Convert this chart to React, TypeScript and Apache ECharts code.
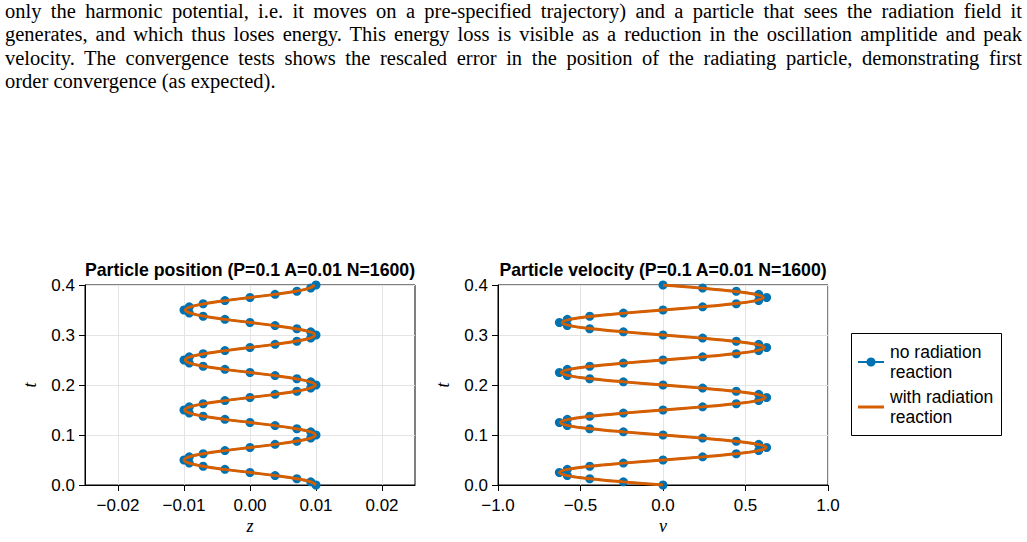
import React, { useEffect, useRef } from "react";
import * as echarts from "echarts";

// Sample times (shared by both particles)
const tValues = [
  0, 0.00625, 0.0125, 0.01875, 0.025, 0.03125, 0.0375, 0.04375,
  0.05, 0.05625, 0.0625, 0.06875, 0.075, 0.08125, 0.0875, 0.09375,
  0.1, 0.10625, 0.1125, 0.11875, 0.125, 0.13125, 0.1375, 0.14375,
  0.15, 0.15625, 0.1625, 0.16875, 0.175, 0.18125, 0.1875, 0.19375,
  0.2, 0.20625, 0.2125, 0.21875, 0.225, 0.23125, 0.2375, 0.24375,
  0.25, 0.25625, 0.2625, 0.26875, 0.275, 0.28125, 0.2875, 0.29375,
  0.3, 0.30625, 0.3125, 0.31875, 0.325, 0.33125, 0.3375, 0.34375,
  0.35, 0.35625, 0.3625, 0.36875, 0.375, 0.38125, 0.3875, 0.39375,
  0.4,
];

// Position, no radiation reaction
const zNoRad = [
  0.0100, 0.0092, 0.0071, 0.0038, 0.0000, -0.0038, -0.0071, -0.0092,
  -0.0100, -0.0092, -0.0071, -0.0038, 0.0000, 0.0038, 0.0071, 0.0092,
  0.0100, 0.0092, 0.0071, 0.0038, 0.0000, -0.0038, -0.0071, -0.0092,
  -0.0100, -0.0092, -0.0071, -0.0038, 0.0000, 0.0038, 0.0071, 0.0092,
  0.0100, 0.0092, 0.0071, 0.0038, 0.0000, -0.0038, -0.0071, -0.0092,
  -0.0100, -0.0092, -0.0071, -0.0038, 0.0000, 0.0038, 0.0071, 0.0092,
  0.0100, 0.0092, 0.0071, 0.0038, 0.0000, -0.0038, -0.0071, -0.0092,
  -0.0100, -0.0092, -0.0071, -0.0038, 0.0000, 0.0038, 0.0071, 0.0092,
  0.0100,
];

// Position, with radiation reaction
const zRad = [
  0.0100, 0.0092, 0.0071, 0.0038, 0.0000, -0.0038, -0.0071, -0.0092,
  -0.0100, -0.0092, -0.0071, -0.0038, 0.0000, 0.0038, 0.0070, 0.0092,
  0.0099, 0.0092, 0.0070, 0.0038, 0.0000, -0.0038, -0.0070, -0.0091,
  -0.0099, -0.0091, -0.0070, -0.0038, 0.0000, 0.0038, 0.0070, 0.0091,
  0.0099, 0.0091, 0.0070, 0.0038, 0.0000, -0.0038, -0.0070, -0.0091,
  -0.0098, -0.0091, -0.0070, -0.0037, 0.0000, 0.0037, 0.0069, 0.0091,
  0.0098, 0.0091, 0.0069, 0.0037, 0.0000, -0.0037, -0.0069, -0.0090,
  -0.0098, -0.0090, -0.0069, -0.0037, 0.0000, 0.0037, 0.0069, 0.0090,
  0.0098,
];

// Velocity, no radiation reaction
const vNoRad = [
  0.000, -0.240, -0.444, -0.580, -0.628, -0.580, -0.444, -0.240,
  0.000, 0.240, 0.444, 0.580, 0.628, 0.580, 0.444, 0.240,
  0.000, -0.240, -0.444, -0.580, -0.628, -0.580, -0.444, -0.240,
  0.000, 0.240, 0.444, 0.580, 0.628, 0.580, 0.444, 0.240,
  0.000, -0.240, -0.444, -0.580, -0.628, -0.580, -0.444, -0.240,
  0.000, 0.240, 0.444, 0.580, 0.628, 0.580, 0.444, 0.240,
  0.000, -0.240, -0.444, -0.580, -0.628, -0.580, -0.444, -0.240,
  0.000, 0.240, 0.444, 0.580, 0.628, 0.580, 0.444, 0.240,
  0.000,
];

// Velocity, with radiation reaction
const vRad = [
  0.000, -0.240, -0.444, -0.580, -0.627, -0.579, -0.443, -0.240,
  0.000, 0.239, 0.442, 0.578, 0.625, 0.577, 0.441, 0.239,
  0.000, -0.238, -0.440, -0.575, -0.622, -0.574, -0.439, -0.238,
  0.000, 0.237, 0.438, 0.572, 0.620, 0.572, 0.437, 0.237,
  0.000, -0.236, -0.436, -0.570, -0.617, -0.569, -0.435, -0.235,
  0.000, 0.235, 0.434, 0.567, 0.614, 0.566, 0.433, 0.234,
  0.000, -0.234, -0.432, -0.564, -0.611, -0.564, -0.431, -0.233,
  0.000, 0.233, 0.430, 0.561, 0.608, 0.561, 0.429, 0.232,
  0.000,
];

const zTicks = [-0.02, -0.01, 0, 0.01, 0.02];

const paragraphLines = [
  "only the harmonic potential, i.e. it moves on a pre-specified trajectory) and a particle that sees the radiation field it",
  "generates, and which thus loses energy. This energy loss is visible as a reduction in the oscillation amplitide and peak",
  "velocity. The convergence tests shows the rescaled error in the position of the radiating particle, demonstrating first",
  "order convergence (as expected).",
];

const BLUE = "#0072B2";
const ORANGE = "#D55E00";
const SANS = "'Liberation Sans', Arial, Helvetica, sans-serif";
const SERIF = "'Liberation Serif', 'Times New Roman', serif";

const minus = (s: string) => s.replace("-", "\u2212");

function axisBase(gridIndex: number) {
  return {
    type: "value" as const,
    gridIndex,
    axisLine: { show: true, onZero: false, lineStyle: { color: "#000", width: 1 } },
    axisTick: { show: true, length: 6, lineStyle: { color: "#000", width: 1 } },
    splitLine: { show: true, lineStyle: { color: "#e4e4e4", width: 1 } },
    nameLocation: "middle" as const,
    nameTextStyle: { fontFamily: SERIF, fontStyle: "italic", fontSize: 18, color: "#000" },
  };
}

function xAxisPos() {
  return {
    ...axisBase(0),
    min: -0.025,
    max: 0.025,
    name: "z",
    nameGap: 32,
    axisTick: { show: true, length: 6, lineStyle: { color: "#000", width: 1 }, customValues: zTicks },
    axisLabel: {
      color: "#000",
      fontSize: 17,
      fontFamily: SANS,
      margin: 12,
      customValues: zTicks,
      formatter: (v: number) => minus(v.toFixed(2)),
    },
  };
}

function xAxisVel() {
  return {
    ...axisBase(1),
    min: -1,
    max: 1,
    interval: 0.5,
    name: "v",
    nameGap: 32,
    axisLabel: {
      color: "#000",
      fontSize: 17,
      fontFamily: SANS,
      margin: 12,
      formatter: (v: number) => minus(v.toFixed(1)),
    },
  };
}

function yAxisTime(gridIndex: number) {
  return {
    ...axisBase(gridIndex),
    min: 0,
    max: 0.4,
    interval: 0.1,
    name: "t",
    nameGap: 46,
    nameRotate: 90,
    axisLabel: {
      color: "#000",
      fontSize: 17,
      fontFamily: SANS,
      margin: 10,
      formatter: (v: number) => v.toFixed(1),
    },
  };
}

function textEl(text: string, x: number, y: number, font: string, align = "left") {
  return {
    type: "text",
    x,
    y,
    style: {
      text,
      font,
      fill: "#000",
      align,
      textAlign: align,
      verticalAlign: "middle",
      textVerticalAlign: "middle",
    },
  };
}

export default function App() {
  const ref = useRef<HTMLDivElement>(null);

  useEffect(() => {
    const chart = echarts.init(ref.current!, null, { renderer: "svg" });
    const legendFont = `17.5px ${SANS}`;
    const titleFont = `bold 17.7px ${SANS}`;

    chart.setOption({
      animation: false,
      grid: [
        { left: 85, top: 285, width: 330, height: 200, show: true, borderColor: "#000", borderWidth: 1, backgroundColor: "transparent" },
        { left: 498, top: 285, width: 330, height: 200, show: true, borderColor: "#000", borderWidth: 1, backgroundColor: "transparent" },
      ],
      xAxis: [xAxisPos(), xAxisVel()],
      yAxis: [yAxisTime(0), yAxisTime(1)],
      series: [
        {
          type: "line",
          name: "no radiation reaction",
          xAxisIndex: 0,
          yAxisIndex: 0,
          data: tValues.map((t, i) => [zNoRad[i], t]),
          symbol: "circle",
          symbolSize: 9,
          showSymbol: true,
          lineStyle: { color: BLUE, width: 2 },
          itemStyle: { color: BLUE },
          z: 2,
        },
        {
          type: "line",
          name: "with radiation reaction",
          xAxisIndex: 0,
          yAxisIndex: 0,
          data: tValues.map((t, i) => [zRad[i], t]),
          symbol: "none",
          smooth: 0.4,
          lineStyle: { color: ORANGE, width: 3 },
          z: 3,
        },
        {
          type: "line",
          name: "no radiation reaction",
          xAxisIndex: 1,
          yAxisIndex: 1,
          data: tValues.map((t, i) => [vNoRad[i], t]),
          symbol: "circle",
          symbolSize: 9,
          showSymbol: true,
          lineStyle: { color: BLUE, width: 2 },
          itemStyle: { color: BLUE },
          z: 2,
        },
        {
          type: "line",
          name: "with radiation reaction",
          xAxisIndex: 1,
          yAxisIndex: 1,
          data: tValues.map((t, i) => [vRad[i], t]),
          symbol: "none",
          smooth: 0.4,
          lineStyle: { color: ORANGE, width: 3 },
          z: 3,
        },
      ],
      graphic: [
        textEl("Particle position (P=0.1 A=0.01 N=1600)", 250, 270, titleFont, "center"),
        textEl("Particle velocity (P=0.1 A=0.01 N=1600)", 663, 270, titleFont, "center"),
        {
          type: "rect",
          shape: { x: 851.5, y: 333.5, width: 150, height: 102 },
          style: { fill: "#fff", stroke: "#000", lineWidth: 1 },
        },
        {
          type: "line",
          shape: { x1: 858, y1: 362, x2: 884, y2: 362 },
          style: { stroke: BLUE, lineWidth: 2 },
        },
        {
          type: "circle",
          shape: { cx: 871, cy: 362, r: 4.5 },
          style: { fill: BLUE },
        },
        textEl("no radiation", 890, 352, legendFont),
        textEl("reaction", 890, 372, legendFont),
        {
          type: "line",
          shape: { x1: 858, y1: 407, x2: 884, y2: 407 },
          style: { stroke: ORANGE, lineWidth: 3 },
        },
        textEl("with radiation", 890, 397, legendFont),
        textEl("reaction", 890, 417, legendFont),
      ],
    });

    return () => chart.dispose();
  }, []);

  return (
    <div style={{ position: "fixed", left: 0, top: 0, width: 1027, height: 542, background: "#fff", overflow: "hidden" }}>
      <div
        style={{
          position: "absolute",
          left: 5,
          top: 0,
          width: 1017,
          fontFamily: SERIF,
          fontSize: 20.5,
          lineHeight: "23.3px",
          color: "#000",
        }}
      >
        {paragraphLines.map((line, i) => (
          <div
            key={i}
            style={{
              textAlign: i < 3 ? "justify" : "left",
              textAlignLast: i < 3 ? "justify" : "left",
              wordSpacing: i < 3 ? "-1.5px" : "0px",
            }}
          >
            {line}
          </div>
        ))}
      </div>
      <div ref={ref} style={{ position: "absolute", left: 0, top: 0, width: 1027, height: 542 }} />
    </div>
  );
}
